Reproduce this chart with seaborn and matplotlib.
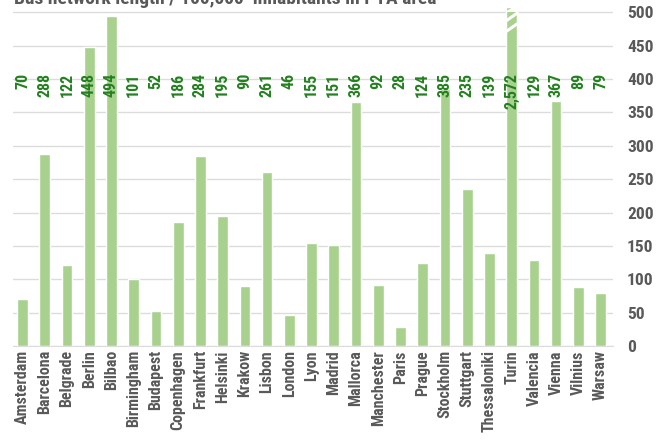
import matplotlib
matplotlib.use("Agg")
import matplotlib.pyplot as plt
import seaborn as sns
import pandas as pd

# données
villes = ["Amsterdam", "Barcelona", "Belgrade", "Berlin", "Bilbao", "Birmingham",
          "Budapest", "Copenhagen", "Frankfurt", "Helsinki", "Krakow", "Lisbon",
          "London", "Lyon", "Madrid", "Mallorca", "Manchester", "Paris", "Prague",
          "Stockholm", "Stuttgart", "Thessaloniki", "Turin", "Valencia", "Vienna",
          "Vilnius", "Warsaw"]
longueur = [70, 288, 122, 448, 494, 101, 52, 186, 284, 195, 90, 261, 46, 155, 151,
            366, 92, 28, 124, 385, 235, 139, 2572, 129, 367, 89, 79]
y_ticks = [0, 50, 100, 150, 200, 250, 300, 350, 400, 450, 500]
titre = "Bus network length / 100,000  inhabitants in PTA area"

y_max = 508
bar_col = "#a9d18e"
lab_col = "#23801f"
txt_col = "#595959"

sns.set_style("white")
plt.rcParams["font.family"] = ["Roboto Condensed", "DejaVu Sans"]

df = pd.DataFrame({"ville": villes, "valeur": longueur})
df["affiche"] = df["valeur"].clip(upper=y_max)

fig = plt.figure(figsize=(6.67, 4.41), dpi=100)
ax = fig.add_axes([13 / 667, 1 - 346 / 441, 600 / 667, 339 / 441])
sns.barplot(data=df, x="ville", y="affiche", color=bar_col, width=0.48,
            saturation=1, ax=ax, zorder=2)

ax.set_ylim(0, y_max)
ax.set_xlim(-0.43, len(villes) - 0.44)
ax.set_yticks(y_ticks)
ax.yaxis.tick_right()
ax.tick_params(axis="y", length=0, pad=10, labelsize=12.5, labelcolor=txt_col)
ax.tick_params(axis="x", length=0, pad=3, labelsize=11.5, labelcolor=txt_col)
for t in ax.get_yticklabels():
    t.set_fontweight("bold")
ax.set_xticks(range(len(villes)))
ax.set_xticklabels(villes, rotation=90, fontweight="bold")
ax.grid(axis="y", color="#dcdcdc", lw=1, zorder=0)
for s in ["left", "right", "top"]:
    ax.spines[s].set_visible(False)
ax.spines["bottom"].set_color("#dcdcdc")
ax.set_xlabel("")
ax.set_ylabel("")

# étiquettes de valeurs
for i, v in enumerate(longueur):
    ax.text(i, 409, f"{v:,}", rotation=90, ha="center", va="top",
            color=lab_col, fontsize=11.5, fontweight="bold", zorder=5)

# coupure de la barre Turin
i_t = villes.index("Turin")
for y0 in [470, 486]:
    ax.plot([i_t - 0.3, i_t + 0.3], [y0, y0 + 14], color="white", lw=2.2,
            zorder=4, solid_capstyle="butt")
ax.fill([i_t - 0.3, i_t + 0.3, i_t + 0.3], [y0 + 14, y0 + 14, y_max + 5],
        color="white", zorder=4, lw=0)

fig.text(14 / 667, 1 - 4 / 441, titre, ha="left", va="baseline",
         color=txt_col, fontsize=14, fontweight="bold")

fig.savefig("out.png", dpi=100)
